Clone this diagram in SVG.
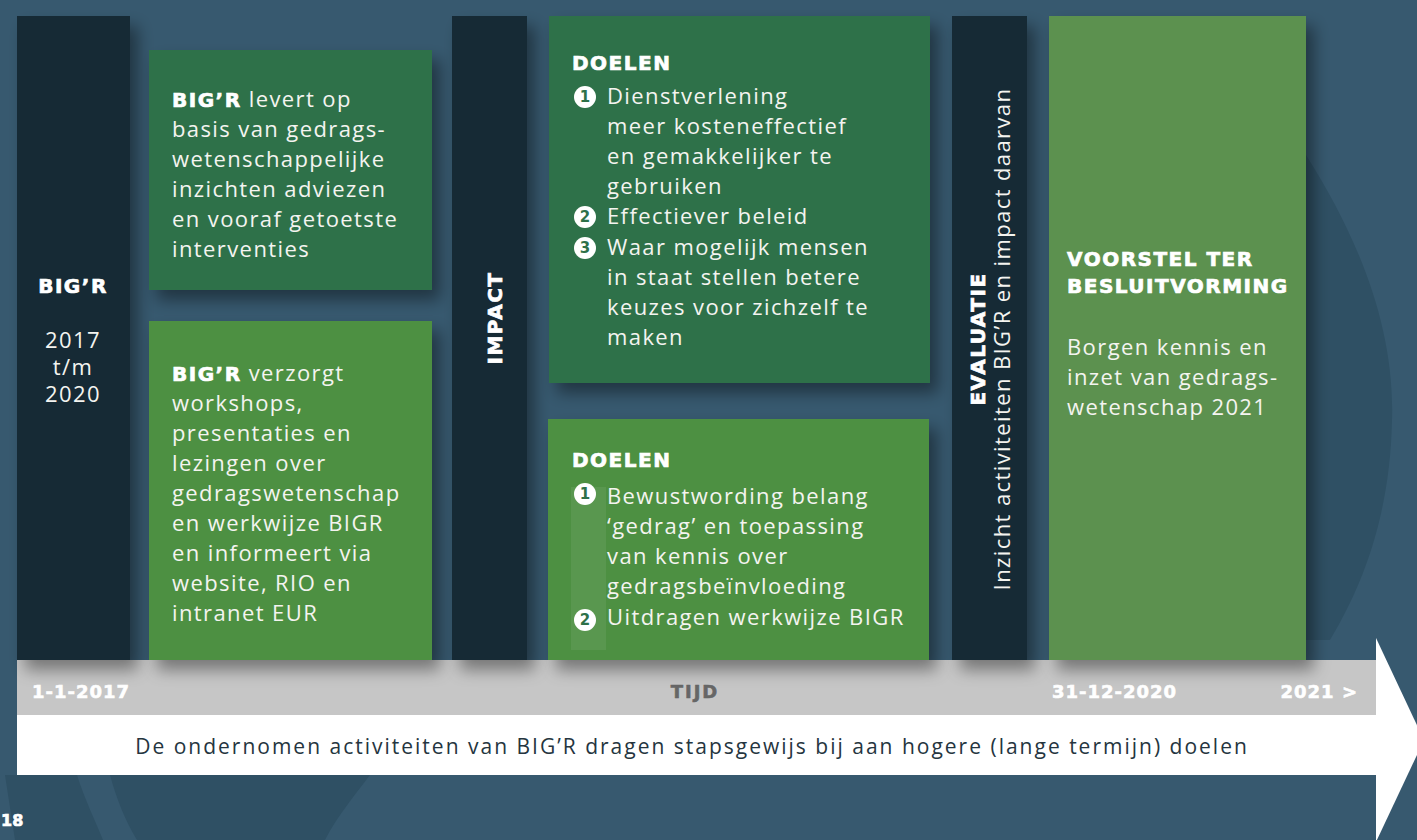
<svg xmlns="http://www.w3.org/2000/svg" width="1417" height="840" viewBox="0 0 1417 840">
<defs>
<filter id="sh" x="-20%" y="-20%" width="150%" height="150%">
<feDropShadow dx="8" dy="10" stdDeviation="8" flood-color="#000" flood-opacity="0.4"/>
</filter>
<style>
.bar{fill:#182a36}
.dg{fill:#2e7149}
.lg{fill:#4d9042}
.vg{fill:#5b9150}
.t{font-family:"Open Sans","Liberation Sans",sans-serif;font-size:22px;fill:#f4f4f0;letter-spacing:1.4px}
.b{font-family:"DejaVu Sans","Liberation Sans",sans-serif;font-weight:bold;fill:#ffffff;stroke:#ffffff;stroke-width:0.7px}
.h{font-size:20px;letter-spacing:1.5px}
.num{font-family:"DejaVu Sans",sans-serif;font-weight:bold;font-size:15px;text-anchor:middle}
.tl{font-family:"DejaVu Sans","Liberation Sans",sans-serif;font-weight:bold;font-size:18px;letter-spacing:1px;stroke-width:0.6px}
</style>
</defs>
<rect width="1417" height="840" fill="#37596f"/>
<g id="background">
<path d="M5 775 L77 775 C85 800 95 820 103 840 L15 840 Z" fill="#2f5064"/>
<path d="M110 775 L370 775 C355 795 338 815 325 840 L137 840 C125 820 117 800 110 775 Z" fill="#2f5064"/>
<path d="M1306 155 C1360 240 1395 330 1392 420 C1390 520 1360 590 1330 640 L1306 640 Z" fill="#2f5064"/>
</g>
<g id="timeline">
<rect x="17" y="660" width="1359" height="55" fill="#c6c6c6"/>
<rect x="17" y="715" width="1359" height="60" fill="#ffffff"/>
<polygon points="1376,638 1424,740 1376,842" fill="#ffffff"/>
<text class="tl" x="32" y="698" fill="#ffffff" stroke="#ffffff">1-1-2017</text>
<text class="tl" x="695" y="698" fill="#666666" stroke="#666666" text-anchor="middle" style="letter-spacing:2px">TIJD</text>
<text class="tl" x="1052" y="698" fill="#ffffff" stroke="#ffffff">31-12-2020</text>
<text class="tl" x="1358" y="698" fill="#ffffff" stroke="#ffffff" text-anchor="end">2021 &gt;</text>
<text x="692" y="754" text-anchor="middle" style="font-family:'Open Sans','Liberation Sans',sans-serif;font-size:21px;fill:#253540;letter-spacing:2px">De ondernomen activiteiten van BIG’R dragen stapsgewijs bij aan hogere (lange termijn) doelen</text>
</g>
<g id="bigr-bar">
<rect class="bar" x="17" y="16" width="113" height="644" filter="url(#sh)"/>
<text class="b h" x="73" y="293" text-anchor="middle">BIG’R</text>
<text class="t" x="73" y="348" text-anchor="middle">2017</text>
<text class="t" x="73" y="375" text-anchor="middle">t/m</text>
<text class="t" x="73" y="402" text-anchor="middle">2020</text>
</g>
<g id="box-advies">
<rect class="dg" x="149" y="50" width="283" height="240" filter="url(#sh)"/>
<text class="t" x="172" y="107"><tspan class="b h">BIG’R</tspan> levert op</text>
<text class="t" x="172" y="137">basis van gedrags-</text>
<text class="t" x="172" y="167">wetenschappelijke</text>
<text class="t" x="172" y="197">inzichten adviezen</text>
<text class="t" x="172" y="227">en vooraf getoetste</text>
<text class="t" x="172" y="257">interventies</text>
</g>
<g id="box-workshops">
<rect class="lg" x="149" y="321" width="283" height="339" filter="url(#sh)"/>
<text class="t" x="172" y="381"><tspan class="b h">BIG’R</tspan> verzorgt</text>
<text class="t" x="172" y="411">workshops,</text>
<text class="t" x="172" y="441">presentaties en</text>
<text class="t" x="172" y="471">lezingen over</text>
<text class="t" x="172" y="501">gedragswetenschap</text>
<text class="t" x="172" y="531">en werkwijze BIGR</text>
<text class="t" x="172" y="561">en informeert via</text>
<text class="t" x="172" y="591">website, RIO en</text>
<text class="t" x="172" y="621">intranet EUR</text>
</g>
<g id="impact-bar">
<rect class="bar" x="452" y="16" width="75" height="644" filter="url(#sh)"/>
<text class="b h" transform="translate(502 318) rotate(-90)" text-anchor="middle">IMPACT</text>
</g>
<g id="doelen-1">
<rect class="dg" x="549" y="16" width="381" height="367" filter="url(#sh)"/>
<text class="b h" x="572" y="70">DOELEN</text>
<circle cx="585" cy="97" r="11" fill="#ffffff"/><text class="num" x="585" y="102" fill="#2e7149">1</text>
<circle cx="585" cy="217" r="11" fill="#ffffff"/><text class="num" x="585" y="222" fill="#2e7149">2</text>
<circle cx="585" cy="248" r="11" fill="#ffffff"/><text class="num" x="585" y="253" fill="#2e7149">3</text>
<text class="t" x="607" y="104">Dienstverlening</text>
<text class="t" x="607" y="134">meer kosteneffectief</text>
<text class="t" x="607" y="164">en gemakkelijker te</text>
<text class="t" x="607" y="194">gebruiken</text>
<text class="t" x="607" y="224">Effectiever beleid</text>
<text class="t" x="607" y="255">Waar mogelijk mensen</text>
<text class="t" x="607" y="285">in staat stellen betere</text>
<text class="t" x="607" y="315">keuzes voor zichzelf te</text>
<text class="t" x="607" y="345">maken</text>
</g>
<g id="doelen-2">
<rect class="lg" x="548" y="419" width="381" height="241" filter="url(#sh)"/>
<rect x="571" y="487" width="35" height="163" fill="#ffffff" opacity="0.07"/>
<text class="b h" x="572" y="467">DOELEN</text>
<circle cx="585" cy="494" r="11" fill="#ffffff"/><text class="num" x="585" y="499" fill="#2e7149">1</text>
<circle cx="585" cy="620" r="11" fill="#ffffff"/><text class="num" x="585" y="625" fill="#2e7149">2</text>
<text class="t" x="607" y="504">Bewustwording belang</text>
<text class="t" x="607" y="534">‘gedrag’ en toepassing</text>
<text class="t" x="607" y="564">van kennis over</text>
<text class="t" x="607" y="594">gedragsbeïnvloeding</text>
<text class="t" x="607" y="625">Uitdragen werkwijze BIGR</text>
</g>
<g id="evaluatie-bar">
<rect class="bar" x="952" y="16" width="75" height="644" filter="url(#sh)"/>
<text class="b h" transform="translate(985 339) rotate(-90)" text-anchor="middle">EVALUATIE</text>
<text class="t" transform="translate(1010 339) rotate(-90)" text-anchor="middle">Inzicht activiteiten BIG’R en impact daarvan</text>
</g>
<g id="voorstel">
<rect class="vg" x="1049" y="16" width="257" height="644" filter="url(#sh)"/>
<text class="b h" x="1067" y="266">VOORSTEL TER</text>
<text class="b h" x="1067" y="293">BESLUITVORMING</text>
<text class="t" x="1067" y="355">Borgen kennis en</text>
<text class="t" x="1067" y="385">inzet van gedrags-</text>
<text class="t" x="1067" y="415">wetenschap 2021</text>
</g>
<text class="b" x="1" y="826" style="font-size:16px">18</text>
</svg>
